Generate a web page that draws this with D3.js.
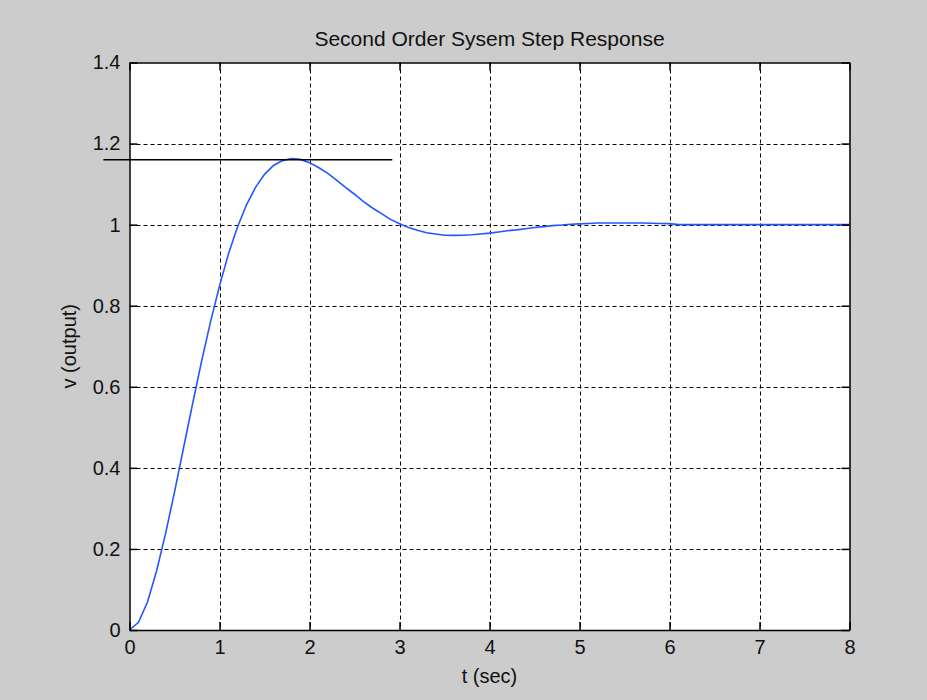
<!DOCTYPE html>
<html>
<head>
<meta charset="utf-8">
<script src="https://cdn.jsdelivr.net/npm/d3@7"></script>
<style>
  body { margin: 0; background: #cccccc; }
  svg text { font-family: "Liberation Sans", Arial, sans-serif; fill: #111; }
</style>
</head>
<body>
<div class="chart"></div>
<script>
const width = 927
const height = 700

// step response
const tSec = [0, 0.1, 0.2, 0.3, 0.4, 0.5, 0.6, 0.7, 0.8, 0.9,
  1.0, 1.1, 1.2, 1.3, 1.4, 1.5, 1.6, 1.7, 1.8, 1.9,
  2.0, 2.1, 2.2, 2.3, 2.4, 2.5, 2.6, 2.7, 2.8, 2.9,
  3.0, 3.1, 3.2, 3.3, 3.4, 3.5, 3.6, 3.7, 3.8, 3.9,
  4.0, 4.1, 4.2, 4.3, 4.4, 4.5, 4.6, 4.7, 4.8, 4.9,
  5.0, 5.1, 5.2, 5.3, 5.4, 5.5, 5.6, 5.7, 5.8, 5.9,
  6.0, 6.1, 7.0, 8.0]
const vOut = [0, 0.019, 0.069, 0.145, 0.237, 0.340, 0.449, 0.557, 0.662, 0.760,
  0.849, 0.928, 0.994, 1.049, 1.092, 1.124, 1.146, 1.158, 1.163, 1.161,
  1.153, 1.141, 1.127, 1.110, 1.092, 1.075, 1.057, 1.041, 1.027, 1.013,
  1.002, 0.993, 0.986, 0.980, 0.977, 0.974, 0.9735, 0.974, 0.975, 0.977,
  0.979, 0.982, 0.985, 0.987, 0.990, 0.993, 0.995, 0.9975, 0.999, 1.001,
  1.002, 1.003, 1.004, 1.004, 1.004, 1.004, 1.004, 1.004, 1.0035, 1.003,
  1.0026, 1.000, 1.000, 1.000]

// horizontal marker at the overshoot peak
const peakLineT = [-0.29, 2.92]
const peakLineV = 1.16

const xTicks = [0, 1, 2, 3, 4, 5, 6, 7, 8]
const yTicks = [0, 0.2, 0.4, 0.6, 0.8, 1, 1.2, 1.4]

const titleText = 'Second Order Sysem Step Response'
const xLabel = 't (sec)'
const yLabel = 'v (output)'

const plotLeft = 129.5
const plotRight = 849.5
const plotTop = 62.5
const plotBottom = 630

const svg = d3.select('.chart')
  .append('svg')
  .attr('width', width)
  .attr('height', height)

svg.append('rect')
  .attr('width', width)
  .attr('height', height)
  .attr('fill', '#cccccc')

const xScale = d3.scaleLinear().domain([0, 8]).range([plotLeft, plotRight])
const yScale = d3.scaleLinear().domain([0, 1.4]).range([plotBottom, plotTop])

svg.append('rect')
  .attr('x', plotLeft)
  .attr('y', plotTop)
  .attr('width', plotRight - plotLeft)
  .attr('height', plotBottom - plotTop)
  .attr('fill', '#ffffff')

// dotted grid
const grid = svg.append('g')
  .attr('stroke', '#000')
  .attr('stroke-width', 1)
  .attr('stroke-dasharray', '4,3')

grid.selectAll('.vgrid')
  .data(xTicks.slice(1, -1))
  .enter()
  .append('line')
  .attr('x1', d => Math.round(xScale(d)) + 0.5)
  .attr('x2', d => Math.round(xScale(d)) + 0.5)
  .attr('y1', plotTop)
  .attr('y2', plotBottom)

grid.selectAll('.hgrid')
  .data(yTicks.slice(1, -1))
  .enter()
  .append('line')
  .attr('y1', d => Math.round(yScale(d)) + 0.5)
  .attr('y2', d => Math.round(yScale(d)) + 0.5)
  .attr('x1', plotLeft)
  .attr('x2', plotRight)

// response curve
const line = d3.line()
  .x((d, i) => xScale(tSec[i]))
  .y(d => yScale(d))

svg.append('path')
  .datum(vOut)
  .attr('d', line)
  .attr('fill', 'none')
  .attr('stroke', '#2257ff')
  .attr('stroke-width', 1.6)

svg.append('line')
  .attr('x1', xScale(peakLineT[0]))
  .attr('x2', xScale(peakLineT[1]))
  .attr('y1', yScale(peakLineV))
  .attr('y2', yScale(peakLineV))
  .attr('stroke', '#000')
  .attr('stroke-width', 1.5)

// axes, ticks pointing inward
const xAxis = d3.axisBottom(xScale).tickValues(xTicks).tickSize(-8).tickSizeOuter(0).tickPadding(10)
const yAxis = d3.axisLeft(yScale).tickValues(yTicks).tickSize(-8).tickSizeOuter(0).tickPadding(9)
  .tickFormat(d3.format('~g'))

const gx = svg.append('g')
  .attr('transform', `translate(0, ${plotBottom})`)
  .call(xAxis)
const gy = svg.append('g')
  .attr('transform', `translate(${plotLeft}, 0)`)
  .call(yAxis)
const gTop = svg.append('g')
  .attr('transform', `translate(0, ${plotTop})`)
  .call(d3.axisTop(xScale).tickValues(xTicks).tickSize(-8).tickSizeOuter(0).tickFormat(''))
const gRight = svg.append('g')
  .attr('transform', `translate(${plotRight}, 0)`)
  .call(d3.axisRight(yScale).tickValues(yTicks).tickSize(-8).tickSizeOuter(0).tickFormat(''))

for (const g of [gx, gy, gTop, gRight]) {
  g.selectAll('path, line').attr('stroke', '#000').attr('stroke-width', 1.5)
  g.selectAll('text').style('font-size', '20px').attr('fill', '#111')
}

svg.append('text')
  .attr('x', (plotLeft + plotRight) / 2)
  .attr('y', 46)
  .attr('text-anchor', 'middle')
  .style('font-size', '21px')
  .text(titleText)

svg.append('text')
  .attr('x', (plotLeft + plotRight) / 2)
  .attr('y', 683)
  .attr('text-anchor', 'middle')
  .style('font-size', '20px')
  .text(xLabel)

svg.append('text')
  .attr('transform', `translate(76, ${(plotTop + plotBottom) / 2}) rotate(-90)`)
  .attr('text-anchor', 'middle')
  .style('font-size', '20px')
  .text(yLabel)
</script>
</body>
</html>
